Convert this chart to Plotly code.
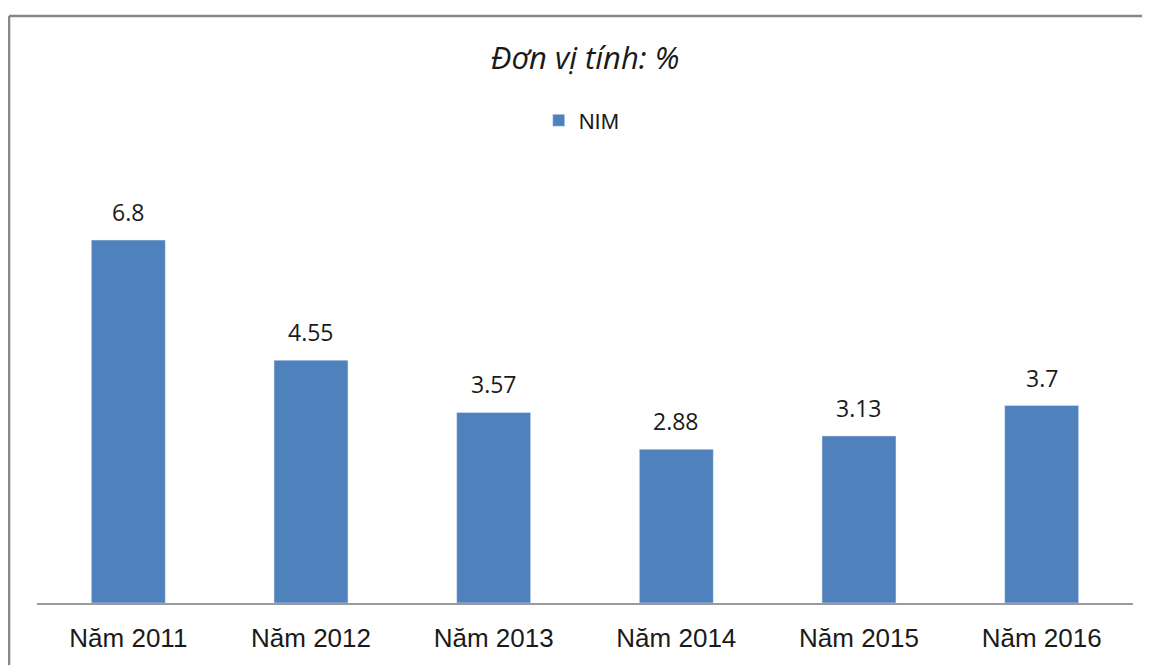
import plotly.graph_objects as go

years = ["Năm 2011", "Năm 2012", "Năm 2013", "Năm 2014", "Năm 2015", "Năm 2016"]
nim = [6.8, 4.55, 3.57, 2.88, 3.13, 3.7]
labels = ["6.8", "4.55", "3.57", "2.88", "3.13", "3.7"]

BLUE = "#4F81BD"
BORDER = "#878787"
TICK_FONT = "Liberation Sans, Arial, sans-serif"
LABEL_FONT = "Open Sans, sans-serif"

fig = go.Figure()
fig.add_trace(go.Bar(
    x=years, y=nim, name="NIM",
    marker_color=BLUE,
    hovertemplate="%{x}: %{y}<extra></extra>",
))

# value labels above the bars
for yr, v, t in zip(years, nim, labels):
    fig.add_annotation(
        x=yr, y=v, text=t, showarrow=False,
        yanchor="bottom", yshift=10,
        font=dict(size=23, family=LABEL_FONT, color="#1a1a1a"),
    )

# outer chart border: only left and top edges are in view
fig.add_shape(type="line", xref="paper", yref="paper",
              x0=-0.0255, x1=1.2, y0=1.375, y1=1.375,
              line=dict(color=BORDER, width=2.5))
fig.add_shape(type="line", xref="paper", yref="paper",
              x0=-0.0255, x1=-0.0255, y0=-0.5, y1=1.375,
              line=dict(color=BORDER, width=2.5))

# page body has an 8px margin -> figure is 8px smaller than the window
fig.update_layout(
    width=1142, height=657,
    plot_bgcolor="#fff", paper_bgcolor="#fff",
    margin=dict(l=29, r=17, t=168, b=57),
    bargap=0.595,
    title=dict(text="<i>Đơn vị tính: %</i>", xref="paper", x=0.5, xanchor="center",
               y=0.924, yanchor="middle",
               font=dict(size=31, family=LABEL_FONT, color="#1a1a1a")),
    showlegend=True,
    legend=dict(orientation="h", x=0.497, xanchor="center", y=1.13, yanchor="middle",
                font=dict(size=22, family=TICK_FONT, color="#1a1a1a"),
                bgcolor="rgba(0,0,0,0)"),
    xaxis=dict(showline=True, linecolor="#9a9a9a", linewidth=1.5,
               showgrid=False, ticks="", ticklabelstandoff=11,
               tickfont=dict(size=26, family=TICK_FONT, color="#1a1a1a")),
    yaxis=dict(visible=False, range=[0, 8], showgrid=False, zeroline=False),
)

fig.write_html("out.html")
